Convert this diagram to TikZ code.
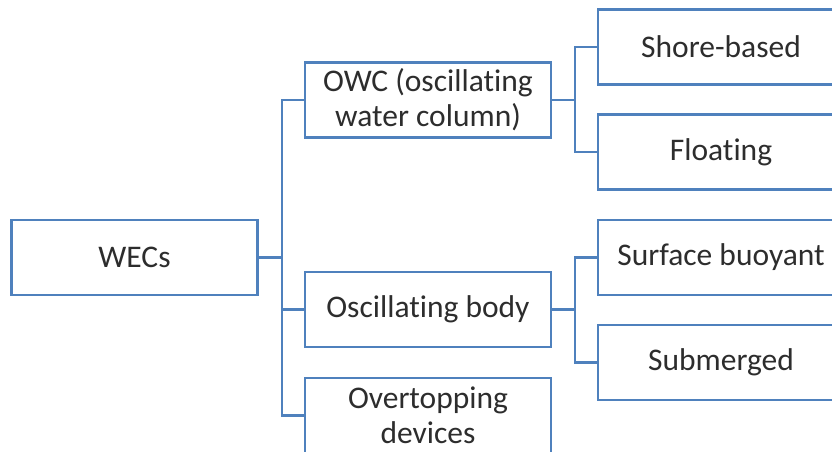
\documentclass[tikz,border=0pt]{standalone}
\usepackage{fontspec}
\setmainfont[Ligatures=NoCommon]{Carlito}
\definecolor{boxblue}{RGB}{79,129,189}
\definecolor{textgray}{RGB}{45,45,45}
\begin{document}
\begin{tikzpicture}
  \useasboundingbox (0pt,0pt) rectangle (832pt,-451pt);
  \clip (0pt,0pt) rectangle (832pt,-451pt);
  % WEC tree
  \begin{scope}[x=1pt, y=-1pt, line width=2.5pt, color=boxblue,
      every node/.style={draw=boxblue, line width=2.5pt, fill=white, text=textgray,
        minimum width=246pt, minimum height=75pt, inner sep=0pt, align=center,
        font=\fontsize{31.5}{35}\selectfont}]
    \node (wec) at (134.5,257.5) {WECs};

    \node (owc) at (428,100) {OWC (oscillating\\water column)};
    \node (body) at (428,309.5) {Oscillating body};
    \node (over) at (428,415.5) {Overtopping\\devices};

    \node (shore) at (721,47) {Shore-based};
    \node (float) at (721,152) {Floating};

    \node (surf) at (721,257.5) {Surface buoyant};
    \node (subm) at (721,362.5) {Submerged};

    % Bus points
    \coordinate (b0) at (282,257.5);
    \coordinate (b1) at (575,100);
    \coordinate (b2) at (575,309.5);

    % Level 1
    \draw (wec.east) -- (b0);
    \draw (b0) |- (owc.west);
    \draw (b0) |- (body.west);
    \draw (b0) |- (over.west);

    % Level 2
    \draw (owc.east) -- (b1);
    \draw (b1) |- (shore.west);
    \draw (b1) |- (float.west);

    \draw (body.east) -- (b2);
    \draw (b2) |- (surf.west);
    \draw (b2) |- (subm.west);
  \end{scope}
\end{tikzpicture}
\end{document}
